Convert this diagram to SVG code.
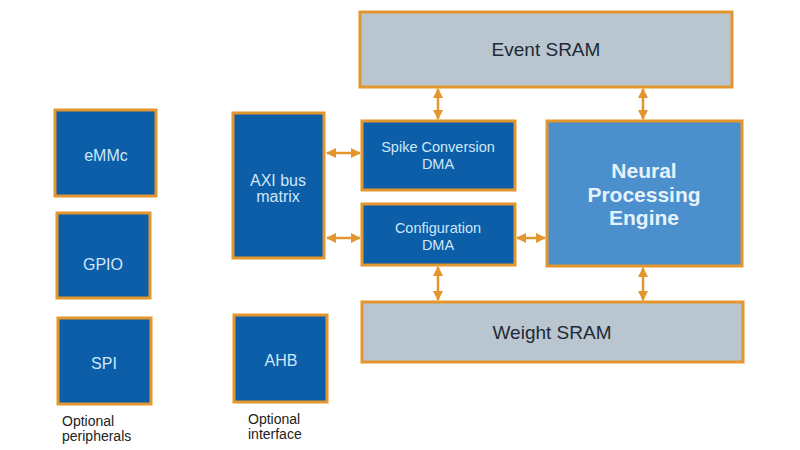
<svg xmlns="http://www.w3.org/2000/svg" width="800" height="450" viewBox="0 0 800 450">
<style>
.box{stroke:#e3962e;stroke-width:3}
.dark{fill:#0b5ea7}
.npe{fill:#4b8fcc}
.sram{fill:#b9c6cf}
.t{font-family:"Liberation Sans",Arial,sans-serif;text-anchor:middle}
.lt{fill:#cfe7f8;font-size:14.5px}
.big{font-size:16px}
.st{fill:#1e2935;font-size:19px}
.cap{font-family:"Liberation Sans",Arial,sans-serif;fill:#222;font-size:14px}
.conn{stroke:#e3962e;stroke-width:2.5;fill:none;marker-start:url(#ah);marker-end:url(#ah)}
</style>
<defs>
<marker id="ah" viewBox="0 0 10 10" refX="9" refY="5" markerWidth="10" markerHeight="10" markerUnits="userSpaceOnUse" orient="auto-start-reverse">
<path d="M0,0 L10,5 L0,10 z" fill="#e3962e"/>
</marker>
</defs>
<rect width="800" height="450" fill="#ffffff"/>
<g id="emmc"><rect class="box dark" x="55" y="110" width="101" height="86"/><text class="t lt big" x="106" y="161">eMMc</text></g>
<g id="gpio"><rect class="box dark" x="57" y="213" width="93" height="85"/><text class="t lt big" x="103" y="270">GPIO</text></g>
<g id="spi"><rect class="box dark" x="58" y="318" width="93" height="86"/><text class="t lt big" x="104" y="369">SPI</text></g>
<g id="optional-peripherals"><text class="cap" x="62" y="426">Optional</text><text class="cap" x="62" y="441">peripherals</text></g>
<g id="axi"><rect class="box dark" x="233" y="113" width="91" height="145"/><text class="t lt big" x="278" y="186">AXI bus</text><text class="t lt big" x="278" y="202">matrix</text></g>
<g id="ahb"><rect class="box dark" x="234" y="315" width="93" height="87"/><text class="t lt big" x="281" y="366">AHB</text></g>
<g id="optional-interface"><text class="cap" x="248" y="424">Optional</text><text class="cap" x="248" y="439">interface</text></g>
<g id="spike-dma"><rect class="box dark" x="362" y="121" width="153" height="69"/><text class="t lt" x="438" y="152">Spike Conversion</text><text class="t lt" x="438" y="169">DMA</text></g>
<g id="config-dma"><rect class="box dark" x="362" y="204" width="153" height="61"/><text class="t lt" x="438" y="233">Configuration</text><text class="t lt" x="438" y="250">DMA</text></g>
<g id="npe"><rect class="box npe" x="547" y="121" width="195" height="145"/><text class="t" x="644" y="178" font-size="21" font-weight="bold" fill="#e6f2fb">Neural</text><text class="t" x="644" y="202" font-size="21" font-weight="bold" fill="#e6f2fb">Processing</text><text class="t" x="644" y="225" font-size="21" font-weight="bold" fill="#e6f2fb">Engine</text></g>
<g id="event-sram"><rect class="box sram" x="360" y="12" width="372" height="75"/><text class="t st" x="546" y="56">Event SRAM</text></g>
<g id="weight-sram"><rect class="box sram" x="362" y="302" width="381" height="60"/><text class="t st" x="552" y="339">Weight SRAM</text></g>
<g id="connectors">
<line class="conn" x1="438" y1="89" x2="438" y2="119"/>
<line class="conn" x1="643" y1="89" x2="643" y2="119"/>
<line class="conn" x1="327" y1="153" x2="360" y2="153"/>
<line class="conn" x1="327" y1="238" x2="360" y2="238"/>
<line class="conn" x1="517" y1="238" x2="545" y2="238"/>
<line class="conn" x1="438" y1="267" x2="438" y2="300"/>
<line class="conn" x1="643" y1="268" x2="643" y2="300"/>
</g>
</svg>
